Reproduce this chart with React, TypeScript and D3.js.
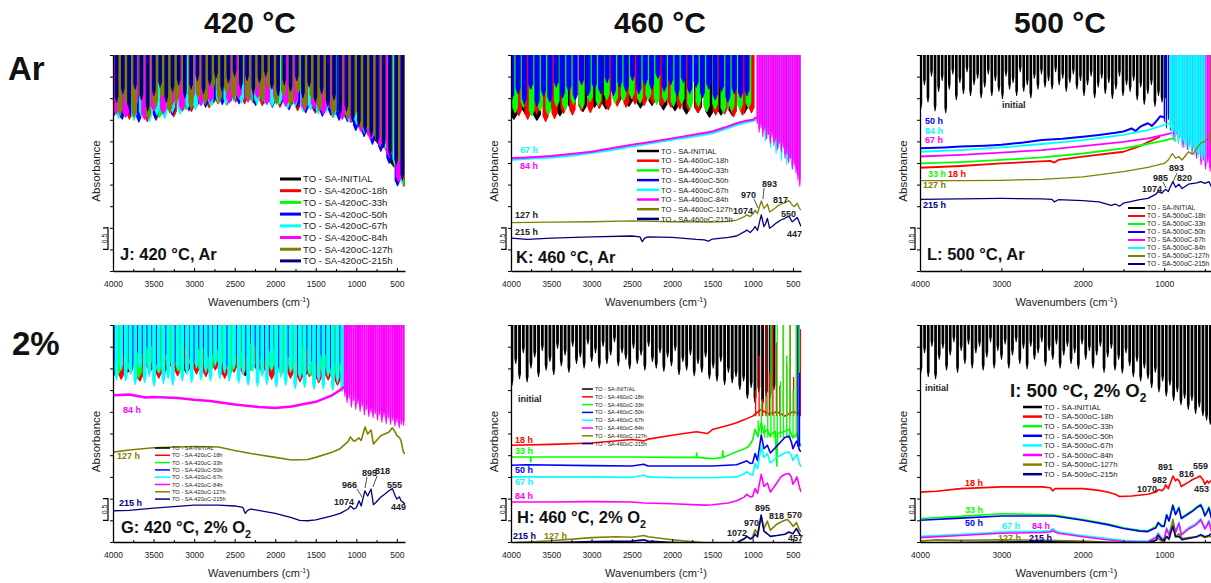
import React, { useEffect, useRef } from "react"
import * as d3 from "d3"

type Pt = [number, number]
type SpikeSet = { from: number; to: number; vals: number[]; mode?: "hang" | "rise"; base?: number; wf?: number }

// series names, colours and axis ticks
const hours = ["INITIAL", "18h", "33h", "50h", "67h", "84h", "127h", "215h"]
const seriesColors = ["#000000", "#ff0000", "#00ff00", "#0000ff", "#00ffff", "#ff00ff", "#808000", "#000080"]
const swappedColors = ["#000000", "#ff0000", "#00ff00", "#0000ff", "#ff00ff", "#00ffff", "#808000", "#000080"]
const ticks500 = [4000, 3500, 3000, 2500, 2000, 1500, 1000, 500]
const minor500 = [3750, 3250, 2750, 2250, 1750, 1250, 750]
const ticks1000 = [4000, 3000, 2000, 1000]
const minor1000 = [3500, 2500, 1500, 500]
const absTicks = [0, 0.5, 1, 1.5, 2, 2.5, 3, 3.5, 4, 4.5, 5]

// ---------- J: 420 °C, Ar  (saturated, spike minima) ----------
const jSp0 = [3.8, 3.7, 3.85, 3.75, 3.9, 4.0, 3.95, 4.05, 4.0, 3.98, 3.95, 3.9, 3.85, 3.8, 3.72, 3.62, 3.45, 3.2, 2.9, 2.4]
const jSp18 = [3.54, 3.5, 3.6, 3.45, 3.48, 3.62, 3.56, 3.7, 3.68, 3.84, 3.77, 3.86, 3.83, 3.9, 3.86, 3.88, 3.82, 3.86, 3.78, 3.8, 3.7, 3.74, 3.64, 3.66, 3.54, 3.55, 3.43, 3.3, 3.12, 2.97, 2.78, 2.5, 1.95]
const jSp33 = [3.7, 3.6, 3.75, 3.55, 3.8, 3.72, 3.9, 3.85, 3.95, 3.9, 3.92, 3.88, 3.85, 3.9, 3.78, 3.72, 3.65, 3.55, 3.4, 3.15, 2.85, 2.3]
const jSp50 = [3.58, 3.5, 3.6, 3.44, 3.55, 3.5, 3.64, 3.6, 3.74, 3.7, 3.82, 3.78, 3.9, 3.84, 3.92, 3.86, 3.94, 3.82, 3.88, 3.78, 3.84, 3.72, 3.78, 3.65, 3.7, 3.57, 3.6, 3.48, 3.45, 3.24, 3.1, 2.92, 2.76, 2.48, 1.96]
const jSp67 = [3.52, 3.62, 3.47, 3.56, 3.45, 3.6, 3.52, 3.66, 3.62, 3.76, 3.72, 3.85, 3.8, 3.9, 3.84, 3.92, 3.87, 3.95, 3.85, 3.9, 3.8, 3.86, 3.75, 3.8, 3.68, 3.72, 3.62, 3.66, 3.55, 3.56, 3.44, 3.38, 3.18, 3.08, 2.88, 2.74, 2.45, 1.98]
const jSp84 = [3.62, 3.55, 3.78, 3.5, 3.7, 3.62, 3.85, 3.7, 3.95, 3.82, 3.9, 4.05, 3.88, 3.98, 3.9, 4.0, 3.84, 3.92, 3.8, 3.86, 3.7, 3.75, 3.62, 3.66, 3.5, 3.44, 3.22, 3.04, 2.88, 2.62, 2.05]
const jSp127 = [3.6, 3.85, 3.55, 3.95, 3.5, 3.8, 4.0, 3.65, 3.9, 4.1, 3.75, 4.0, 3.85, 4.2, 3.9, 4.1, 3.95, 4.25, 3.95, 4.15, 3.9, 4.2, 3.85, 4.05, 3.8, 4.1, 3.75, 3.95, 3.7, 3.9, 3.6, 3.75, 3.5, 3.6, 3.3, 3.25, 3.05, 2.95, 2.72, 2.5, 1.98]
const jSp215 = [3.9, 4.1, 3.75, 4.2, 3.95, 3.7, 4.05, 4.25, 3.9, 4.15, 4.3, 4.0, 4.2, 4.4, 4.1, 4.3, 4.45, 4.15, 4.35, 4.5, 4.2, 4.4, 4.1, 4.35, 4.5, 4.2, 4.05, 4.3, 4.15, 4.4, 4.0, 4.25, 3.9, 4.1, 3.8, 3.95, 3.6, 3.7, 3.45, 3.35, 3.2, 3.1, 2.95, 2.85, 2.65, 2.45, 2.1]

// ---------- K: 460 °C, Ar ----------
const kSp0 = [3.5, 3.62, 3.48, 3.66, 3.58, 3.72, 3.68, 3.78, 3.74, 3.84, 3.8, 3.76, 3.82, 3.72, 3.7, 3.62, 3.66, 3.55, 3.6, 3.58, 3.64]
const kSp18 = [3.58, 3.5, 3.62, 3.45, 3.52, 3.64, 3.6, 3.7, 3.66, 3.75, 3.72, 3.8, 3.78, 3.85, 3.82, 3.86, 3.8, 3.78, 3.74, 3.7, 3.66, 3.68, 3.6, 3.62, 3.56, 3.6, 3.65]
const kSp33 = [3.65, 3.78, 3.58, 3.7, 3.6, 3.8, 3.72, 3.85, 3.75, 3.9, 3.82, 3.95, 3.88, 3.92, 3.98, 3.88, 3.95, 3.85, 3.9, 3.8, 3.86, 3.75, 3.8, 3.68, 3.74, 3.65, 3.7, 3.72, 3.76]
const kSp50 = [3.95, 4.1, 3.85, 4.2, 3.8, 4.05, 3.9, 4.25, 4.0, 4.15, 3.95, 4.3, 4.05, 4.2, 4.1, 4.35, 4.05, 4.25, 4.15, 4.4, 4.1, 4.3, 4.2, 4.45, 4.15, 4.3, 4.05, 4.35, 4.1, 4.25, 4.0, 4.2, 3.95, 4.15, 3.9, 4.1, 4.0, 4.05]
const kSp67 = [3.2, 3.0, 3.15, 2.85, 3.0, 2.7, 2.85, 2.55, 2.75, 2.45, 2.6, 2.35, 2.4, 2.25, 2.15]
const kSp84 = [3.4, 3.2, 3.3, 3.1, 3.25, 3.05, 3.15, 2.95, 3.1, 2.9, 3.0, 2.8, 2.95, 2.75, 2.85, 2.6, 2.7, 2.5, 2.6, 2.35, 2.45, 2.25, 2.1, 1.95]
const k67: Pt[] = [[4000, 2.57], [3800, 2.6], [3500, 2.63], [3200, 2.68], [3000, 2.73], [2750, 2.8], [2500, 2.88], [2250, 2.96], [2000, 3.04], [1750, 3.11], [1500, 3.19], [1350, 3.28], [1200, 3.38], [1100, 3.43], [1000, 3.47], [950, 3.5]]
const k84: Pt[] = [[4000, 2.61], [3800, 2.63], [3500, 2.66], [3200, 2.72], [3000, 2.76], [2750, 2.84], [2500, 2.92], [2250, 2.99], [2000, 3.07], [1750, 3.15], [1500, 3.23], [1350, 3.32], [1200, 3.42], [1100, 3.47], [1000, 3.5], [950, 3.56]]
const k127: Pt[] = [[4000, 1.12], [3500, 1.13], [3000, 1.14], [2500, 1.16], [2000, 1.14], [1500, 1.13], [1300, 1.15], [1200, 1.18], [1100, 1.26], [1074, 1.3], [1030, 1.26], [990, 1.33], [970, 1.41], [940, 1.33], [893, 1.62], [860, 1.45], [840, 1.49], [817, 1.55], [790, 1.37], [760, 1.4], [700, 1.49], [650, 1.55], [600, 1.58], [550, 1.63], [510, 1.53], [480, 1.49], [447, 1.57], [420, 1.45], [400, 1.41]]
const k215: Pt[] = [[4000, 0.76], [3800, 0.73], [3500, 0.76], [3000, 0.79], [2500, 0.81], [2400, 0.79], [2370, 0.68], [2340, 0.76], [2300, 0.79], [2000, 0.78], [1700, 0.73], [1600, 0.72], [1550, 0.69], [1500, 0.74], [1300, 0.78], [1200, 0.81], [1100, 0.91], [1074, 0.95], [1030, 0.89], [990, 0.97], [970, 1.03], [940, 0.94], [893, 1.3], [860, 1.03], [840, 1.09], [817, 1.22], [790, 0.99], [760, 1.03], [700, 1.12], [650, 1.18], [600, 1.22], [550, 1.27], [510, 1.14], [480, 1.18], [447, 1.24], [420, 1.12], [400, 1.03]]

// ---------- L: 500 °C, Ar ----------
const lSp0 = [3.75, 4.3, 3.9, 4.5, 3.7, 4.15, 4.4, 3.65, 4.2, 4.55, 3.95, 4.35, 4.1, 4.6, 4.05, 4.3, 4.45, 4.0, 4.25, 4.55, 4.05, 4.4, 4.15, 3.98, 4.5, 4.2, 4.35, 4.05, 4.6, 4.15, 4.3, 4.0, 4.45, 4.2, 4.55, 4.25, 4.4, 4.2, 4.6, 4.3, 4.45, 4.15, 4.35, 4.55, 4.2, 4.4, 4.05, 4.3, 4.5, 4.0, 4.25, 4.45, 4.1, 4.35, 3.98, 4.2, 4.5, 4.05, 4.3, 4.15, 4.4, 3.95, 4.25, 3.85, 4.1, 4.3, 3.8, 4.05, 3.9, 4.0]
const lSp50 = [3.45, 3.3, 3.5, 3.25, 3.4, 3.3]
const lSp67 = [3.05, 3.15, 2.95, 3.1, 2.85, 2.98, 2.8, 2.9, 2.7, 2.8, 2.6, 2.7, 2.45, 2.55, 2.35, 2.5, 2.3, 2.6]
const lSp84 = [3.3, 3.1, 3.22, 3.0, 3.15, 2.95, 3.08, 2.9, 3.0, 2.85, 2.95, 2.8, 2.9, 2.75, 2.82, 2.68, 2.76, 2.62, 2.7, 2.58, 2.64, 2.5]
const lSp127 = [2.9, 2.45, 2.35]
const l18: Pt[] = [[4000, 2.39], [3500, 2.43], [3000, 2.49], [2400, 2.55], [2350, 2.51], [2300, 2.57], [2000, 2.65], [1500, 2.76], [1300, 2.89], [1100, 3.07], [1050, 3.11]]
const l33: Pt[] = [[4000, 2.49], [3500, 2.52], [3000, 2.57], [2500, 2.63], [2000, 2.72], [1500, 2.84], [1200, 2.94], [1000, 3.02], [900, 3.07], [850, 3.0]]
const l50: Pt[] = [[4000, 2.84], [3700, 2.86], [3500, 2.88], [3200, 2.9], [3000, 2.92], [2750, 2.97], [2500, 3.03], [2250, 3.06], [2000, 3.11], [1800, 3.15], [1600, 3.2], [1500, 3.23], [1400, 3.3], [1350, 3.24], [1300, 3.33], [1250, 3.38], [1200, 3.42], [1150, 3.36], [1100, 3.46], [1050, 3.58], [1000, 3.56]]
const l67: Pt[] = [[4000, 2.65], [3500, 2.69], [3000, 2.74], [2500, 2.8], [2000, 2.89], [1500, 2.99], [1200, 3.07], [1000, 3.15], [900, 3.2]]
const l84: Pt[] = [[4000, 2.76], [3500, 2.8], [3000, 2.86], [2500, 2.94], [2000, 3.03], [1500, 3.15], [1200, 3.26], [1000, 3.38], [930, 3.42]]
const l127: Pt[] = [[4000, 2.09], [3500, 2.09], [3000, 2.1], [2500, 2.12], [2350, 2.14], [2000, 2.18], [1500, 2.3], [1200, 2.4], [1000, 2.49], [950, 2.57], [900, 2.72], [860, 2.61], [820, 2.65], [780, 2.57], [700, 2.76], [650, 2.7], [600, 2.84], [550, 2.96], [500, 3.0], [450, 3.11], [420, 3.19]]
const l215: Pt[] = [[4000, 1.66], [3500, 1.67], [3000, 1.68], [2500, 1.67], [2380, 1.66], [2350, 1.6], [2300, 1.65], [2000, 1.63], [1800, 1.6], [1650, 1.52], [1600, 1.55], [1550, 1.5], [1500, 1.57], [1300, 1.65], [1200, 1.68], [1100, 1.78], [1074, 1.84], [1030, 1.8], [985, 1.89], [950, 1.84], [893, 2.07], [860, 1.94], [820, 2.01], [780, 1.91], [700, 2.01], [600, 2.04], [550, 2.07], [500, 2.03], [450, 2.07], [420, 1.95], [400, 1.91]]

// ---------- G: 420 °C, 2% O2 ----------
const gSp0 = [3.8, 3.9, 3.72, 3.95, 3.85, 4.0, 3.88, 4.05, 3.92, 3.86, 4.0, 3.82, 3.95, 3.9, 4.02, 3.92, 3.78, 3.88, 3.8, 3.72]
const gSp18 = [3.74, 3.88, 3.7, 3.92, 3.76, 3.96, 3.82, 4.0, 3.86, 3.8, 3.95, 3.76, 3.9, 3.84, 3.98, 3.86, 3.74, 3.86, 3.76, 3.68, 3.8, 3.66, 3.72, 3.6, 3.64]
const gSp33 = [3.85, 3.98, 3.78, 4.02, 3.88, 4.08, 3.92, 4.1, 3.96, 3.9, 4.05, 3.86, 4.0, 3.94, 4.1, 3.96, 3.84, 3.95, 3.86, 3.8, 3.9, 3.76, 3.82]
const gSp50 = [4.1, 4.3, 4.0, 4.25, 4.4, 4.05, 4.3, 4.15, 4.45, 4.1, 4.35, 4.2, 4.4, 4.05, 4.3, 4.25, 4.45, 4.1, 4.35, 4.0, 4.25, 4.15, 4.4, 4.05, 4.2, 3.95, 4.1]
const gSp67 = [3.72, 3.95, 3.7, 3.85, 3.62, 4.0, 3.66, 3.8, 3.58, 3.9, 3.64, 3.75, 3.6, 3.95, 3.7, 3.85, 3.66, 4.0, 3.72, 3.9, 3.7, 4.05, 3.75, 3.88, 3.7, 3.98, 3.65, 3.85, 3.6, 3.92, 3.58, 3.8, 3.62, 3.95, 3.56, 3.78, 3.6, 3.9, 3.52, 3.75, 3.55, 3.85, 3.5, 3.7, 3.52, 3.8, 3.48, 3.66, 3.45, 3.6]
const gSp84 = [3.35, 3.2, 3.3, 3.1, 3.25, 3.05, 3.18, 3.0, 3.12, 2.92, 3.05, 2.88, 2.98, 2.85, 2.95, 2.8, 2.92, 2.75, 2.88, 2.72, 2.85, 2.7, 2.8, 2.66, 2.75, 2.62, 2.7, 2.68]
const g84: Pt[] = [[4000, 3.38], [3800, 3.4], [3600, 3.33], [3500, 3.34], [3200, 3.32], [3000, 3.28], [2800, 3.25], [2500, 3.17], [2200, 3.11], [2000, 3.09], [1800, 3.12], [1500, 3.23], [1300, 3.38], [1200, 3.5], [1150, 3.57]]
const g127: Pt[] = [[4000, 2.07], [3800, 2.12], [3500, 2.17], [3000, 2.2], [2700, 2.19], [2500, 2.11], [2300, 2.04], [2000, 1.95], [1800, 1.89], [1600, 1.9], [1500, 1.95], [1300, 2.07], [1200, 2.15], [1100, 2.32], [1074, 2.42], [1030, 2.32], [1000, 2.35], [970, 2.4], [940, 2.34], [893, 2.65], [860, 2.49], [818, 2.58], [790, 2.26], [760, 2.32], [700, 2.45], [650, 2.49], [600, 2.53], [555, 2.63], [520, 2.53], [500, 2.45], [470, 2.41], [450, 2.34], [420, 2.07], [400, 2.03]]
const g215: Pt[] = [[4000, 0.72], [3800, 0.73], [3500, 0.78], [3000, 0.85], [2700, 0.85], [2500, 0.83], [2400, 0.8], [2370, 0.66], [2340, 0.73], [2300, 0.76], [2000, 0.66], [1800, 0.56], [1700, 0.5], [1600, 0.49], [1500, 0.51], [1300, 0.6], [1200, 0.66], [1100, 0.76], [1074, 0.83], [1030, 0.76], [1000, 0.79], [966, 0.95], [940, 0.83], [895, 1.18], [860, 1.06], [818, 1.22], [790, 0.86], [760, 0.91], [700, 1.03], [650, 1.1], [600, 1.18], [555, 1.23], [520, 1.06], [500, 0.99], [470, 1.04], [449, 0.95], [420, 0.91], [400, 0.87]]

// ---------- H: 460 °C, 2% O2 ----------
const hSp0 = [3.6, 4.1, 3.75, 4.35, 3.68, 4.0, 4.25, 3.8, 4.4, 3.95, 4.15, 3.85, 4.45, 4.05, 4.3, 3.9, 4.5, 4.1, 4.25, 4.0, 4.55, 4.15, 4.35, 4.0, 4.5, 4.1, 4.3, 4.6, 4.05, 4.35, 4.2, 3.98, 4.45, 4.1, 4.3, 3.95, 4.5, 4.15, 4.0, 4.35, 3.92, 4.25, 4.05, 4.4, 3.85, 4.15, 3.95, 4.3, 3.82, 4.1, 3.9, 4.25, 3.75, 4.0, 3.7, 4.15, 3.62, 3.9, 3.66, 3.8, 3.5, 3.7, 3.3, 3.55, 3.2, 3.45, 3.15, 3.35, 3.3, 3.5]
const hSp18 = [3.5, 4.3, 3.3, 5.3, 3.9, 5.3, 4.6, 3.6, 5.3, 4.1, 5.3, 3.8, 5.3, 4.9]
const hSp33 = [2.8, 3.2, 2.7, 3.4, 5.3, 3.0, 5.3, 3.7, 5.3, 4.3, 5.3, 3.5, 5.3, 5.3]
const hSp50 = [5.3, 3.9]
const h18: Pt[] = [[4000, 2.23], [3500, 2.25], [3000, 2.28], [2500, 2.36], [2350, 2.33], [2300, 2.37], [2000, 2.46], [1700, 2.54], [1560, 2.5], [1500, 2.59], [1300, 2.69], [1200, 2.75], [1100, 2.82], [1000, 2.9], [900, 3.05], [800, 2.95], [700, 3.0], [600, 2.9], [500, 3.0], [400, 2.95]]
const h33: Pt[] = [[4000, 1.96], [3760, 1.96], [3755, 1.85], [3750, 1.96], [3000, 1.96], [2500, 1.96], [2000, 1.95], [1700, 1.95], [1695, 2.05], [1690, 1.95], [1500, 1.92], [1375, 1.95], [1370, 2.1], [1365, 1.95], [1200, 2.08], [1100, 2.15], [1050, 2.2], [1000, 2.35], [970, 2.6], [940, 2.45], [893, 2.75], [860, 2.5], [818, 2.6], [790, 2.45], [720, 2.55], [700, 1.75], [690, 2.5], [600, 2.55], [550, 2.6], [500, 2.4], [450, 2.5], [420, 2.3], [400, 2.2]]
const h50: Pt[] = [[4000, 1.77], [3800, 1.78], [3000, 1.76], [2500, 1.75], [2350, 1.79], [2300, 1.75], [2000, 1.75], [1500, 1.75], [1200, 1.78], [1100, 1.85], [1074, 1.87], [1030, 1.81], [1000, 1.82], [970, 2.04], [940, 1.88], [893, 2.46], [860, 2.15], [818, 2.23], [780, 2.05], [700, 2.21], [650, 2.31], [600, 2.41], [550, 2.44], [520, 2.31], [500, 2.15], [470, 2.27], [450, 2.33], [420, 2.12], [400, 2.08]]
const h67: Pt[] = [[4000, 1.5], [3000, 1.5], [2500, 1.49], [2350, 1.54], [2300, 1.5], [2000, 1.48], [1500, 1.48], [1200, 1.5], [1100, 1.58], [1074, 1.62], [1030, 1.56], [1000, 1.54], [970, 1.81], [940, 1.69], [893, 2.21], [860, 1.95], [818, 2.04], [780, 1.82], [700, 1.95], [650, 2.0], [600, 2.05], [550, 2.08], [520, 2.0], [500, 1.88], [470, 1.97], [450, 2.02], [420, 1.81], [400, 1.73]]
const h84: Pt[] = [[4000, 0.92], [3500, 0.92], [3000, 0.93], [2500, 0.92], [2350, 0.9], [2000, 0.88], [1600, 0.85], [1500, 0.86], [1300, 0.9], [1200, 0.95], [1100, 1.04], [1074, 1.1], [1030, 1.04], [1000, 1.05], [970, 1.23], [940, 1.12], [893, 1.56], [860, 1.28], [818, 1.36], [780, 1.15], [700, 1.36], [650, 1.5], [600, 1.56], [550, 1.58], [520, 1.5], [500, 1.33], [470, 1.42], [450, 1.5], [420, 1.27], [400, 1.15]]
const h127: Pt[] = [[4000, -0.02], [3500, 0.03], [3000, 0.1], [2700, 0.12], [2500, 0.11], [2350, 0.15], [2300, 0.12], [2000, 0.05], [1700, 0.0], [1500, -0.04], [1200, -0.02], [1100, 0.08], [1074, 0.13], [1030, 0.08], [1000, 0.12], [970, 0.28], [940, 0.19], [893, 0.59], [860, 0.31], [818, 0.48], [780, 0.27], [700, 0.41], [650, 0.46], [600, 0.5], [570, 0.52], [520, 0.42], [500, 0.36], [470, 0.41], [457, 0.45], [420, 0.28], [400, 0.23]]
const h215: Pt[] = [[4000, -0.05], [3000, 0.01], [2500, 0.02], [2350, 0.05], [2300, 0.02], [2000, -0.01], [1500, -0.05], [1200, -0.02], [1100, 0.08], [1074, 0.13], [1030, 0.07], [1000, 0.09], [970, 0.18], [940, 0.12], [895, 0.62], [860, 0.25], [818, 0.19], [780, 0.13], [700, 0.15], [600, 0.18], [550, 0.23], [500, 0.19], [457, 0.31], [420, 0.19], [400, 0.13]]

// ---------- I: 500 °C, 2% O2 ----------
const iSp0 = [3.9, 4.35, 3.8, 4.5, 3.75, 4.2, 4.45, 3.95, 4.3, 4.6, 3.9, 4.4, 4.1, 4.55, 4.0, 4.35, 4.5, 3.95, 4.25, 4.6, 4.0, 4.4, 4.2, 4.55, 4.0, 4.3, 4.6, 4.1, 4.45, 3.98, 4.5, 4.2, 4.35, 4.6, 4.05, 4.4, 4.2, 4.55, 4.0, 4.3, 4.5, 4.1, 4.35, 3.98, 4.55, 4.2, 4.4, 4.0, 4.3, 4.5, 3.9, 4.25, 4.45, 3.95, 4.2, 3.88, 4.35, 4.05, 3.8, 4.15, 3.7, 4.0, 3.75, 3.55, 3.9, 3.45, 3.7, 3.35, 3.6, 3.25, 3.45, 3.15, 3.3, 3.05, 3.25, 2.95, 3.1, 2.9, 2.8, 2.7]
const i18: Pt[] = [[4000, 1.15], [3800, 1.17], [3500, 1.23], [3000, 1.27], [2500, 1.27], [2400, 1.25], [2370, 1.18], [2340, 1.23], [2000, 1.23], [1800, 1.19], [1700, 1.15], [1600, 1.1], [1550, 1.05], [1400, 1.06], [1200, 1.1], [1100, 1.15], [1070, 1.21], [1030, 1.18], [1000, 1.23], [982, 1.32], [950, 1.23], [891, 1.52], [860, 1.41], [840, 1.45], [816, 1.41], [790, 1.28], [700, 1.38], [650, 1.44], [600, 1.48], [559, 1.52], [520, 1.43], [500, 1.33], [470, 1.41], [453, 1.36], [420, 1.42], [400, 1.31]]
const i33: Pt[] = [[4000, 0.54], [3500, 0.59], [3000, 0.65], [2500, 0.63], [2350, 0.62], [2000, 0.52], [1700, 0.42], [1500, 0.33], [1300, 0.27], [1200, 0.26], [1100, 0.36], [1074, 0.46], [1030, 0.38], [1000, 0.38], [970, 0.64], [940, 0.5], [893, 0.86], [860, 0.65], [818, 0.81], [790, 0.56], [700, 0.67], [650, 0.73], [600, 0.81], [550, 0.87], [520, 0.75], [500, 0.62], [470, 0.73], [450, 0.81], [420, 0.58], [400, 0.54]]
const i50: Pt[] = [[4000, 0.5], [3500, 0.55], [3000, 0.6], [2500, 0.6], [2350, 0.6], [2000, 0.5], [1700, 0.4], [1500, 0.31], [1300, 0.25], [1200, 0.24], [1100, 0.33], [1074, 0.44], [1030, 0.36], [1000, 0.36], [970, 0.62], [940, 0.48], [893, 0.84], [860, 0.63], [818, 0.78], [790, 0.54], [700, 0.65], [650, 0.71], [600, 0.79], [550, 0.85], [520, 0.72], [500, 0.6], [470, 0.7], [450, 0.78], [420, 0.55], [400, 0.52]]
const i67: Pt[] = [[4000, 0.13], [3500, 0.18], [3000, 0.23], [2500, 0.25], [2400, 0.26], [2370, 0.31], [2340, 0.26], [2300, 0.23], [2000, 0.15], [1700, 0.08], [1500, 0.04], [1300, 0.02], [1200, 0.02], [1100, 0.12], [1074, 0.21], [1030, 0.1], [1000, 0.08], [970, 0.33], [940, 0.19], [893, 0.5], [860, 0.25], [818, 0.46], [790, 0.19], [700, 0.33], [650, 0.38], [600, 0.44], [550, 0.54], [520, 0.42], [500, 0.33], [470, 0.42], [450, 0.5], [420, 0.28], [400, 0.25]]
const i84: Pt[] = [[4000, 0.1], [3500, 0.15], [3000, 0.2], [2500, 0.22], [2400, 0.23], [2370, 0.27], [2340, 0.23], [2300, 0.2], [2000, 0.12], [1700, 0.05], [1500, 0.01], [1300, 0.0], [1200, 0.0], [1100, 0.1], [1074, 0.18], [1030, 0.07], [1000, 0.06], [970, 0.3], [940, 0.16], [893, 0.47], [860, 0.22], [818, 0.43], [790, 0.16], [700, 0.3], [650, 0.35], [600, 0.41], [550, 0.51], [520, 0.39], [500, 0.3], [470, 0.39], [450, 0.47], [420, 0.25], [400, 0.22]]
const i127: Pt[] = [[4000, 0.02], [3800, 0.05], [3500, 0.04], [3000, 0.05], [2500, 0.04], [2000, 0.02], [1500, -0.02], [1200, -0.02], [1100, 0.04], [1074, 0.08], [1030, 0.02], [1000, 0.02], [970, 0.12], [940, 0.05], [893, 0.52], [860, 0.13], [818, 0.19], [780, 0.08], [700, 0.1], [600, 0.12], [550, 0.15], [500, 0.1], [450, 0.13], [420, 0.12], [400, 0.1]]
const i215: Pt[] = [[4000, -0.02], [3000, 0.0], [2500, 0.01], [2000, -0.01], [1500, -0.02], [1200, -0.02], [1100, 0.04], [1074, 0.15], [1030, 0.05], [1000, 0.04], [970, 0.13], [940, 0.08], [893, 0.36], [860, 0.12], [818, 0.13], [780, 0.05], [700, 0.08], [600, 0.12], [550, 0.17], [500, 0.12], [450, 0.15], [420, 0.19], [400, 0.15]]

const FONT = "'Liberation Sans', Arial, Helvetica, sans-serif"
const HIGH = 5.3 // off-scale level the saturated spikes hang from

const panels = [
	{
		id: "J", temp: "420", left: 113, top: 55, width: 292, height: 216, major: ticks500, minor: minor500, colors: seriesColors,
		title: ["J: 420 °C, Ar", ""], titleAt: [7, 205], titleSize: 16.5,
		legend: { x: 167, y: 124, row: 11.7, size: 9.5, len: 21, lw: 3 },
		series: [
			{ spikes: [{ from: 4000, to: 400, vals: jSp0 }] },
			{ spikes: [{ from: 4000, to: 400, vals: jSp18 }] },
			{ spikes: [{ from: 4000, to: 400, vals: jSp33 }] },
			{ spikes: [{ from: 4000, to: 400, vals: jSp50 }] },
			{ spikes: [{ from: 4000, to: 400, vals: jSp67 }] },
			{ spikes: [{ from: 4000, to: 400, vals: jSp84 }] },
			{ spikes: [{ from: 4000, to: 400, vals: jSp127, wf: 0.75 }] },
			{ spikes: [{ from: 4000, to: 400, vals: jSp215, wf: 0.6 }] },
		],
		labels: [] as any[], leaders: [] as number[][],
	},
	{
		id: "K", temp: "460", left: 511, top: 55, width: 290, height: 216, major: ticks500, minor: minor500, colors: seriesColors,
		title: ["K: 460 °C, Ar", ""], titleAt: [5, 208], titleSize: 16.5,
		legend: { x: 126, y: 96, row: 9.7, size: 7.6, len: 22, lw: 2.5 },
		series: [
			{ spikes: [{ from: 4000, to: 1000, vals: kSp0 }] },
			{ spikes: [{ from: 4000, to: 1000, vals: kSp18 }] },
			{ spikes: [{ from: 4000, to: 1000, vals: kSp33 }] },
			{ spikes: [{ from: 4000, to: 1000, vals: kSp50, wf: 0.8 }] },
			{ pts: k67, lw: 2, spikes: [{ from: 900, to: 400, vals: kSp67 }] },
			{ pts: k84, lw: 2, spikes: [{ from: 950, to: 400, vals: kSp84, wf: 1.0 }] },
			{ pts: k127 },
			{ pts: k215 },
		],
		labels: [
			["67 h", "#00ffff", 9, 98], ["84 h", "#ff00ff", 9, 114], ["127 h", "#222", 4, 163], ["215 h", "#222", 4, 180],
			["893", "#222", 251, 132], ["970", "#222", 230, 143], ["817", "#222", 262, 148], ["1074", "#222", 222, 159],
			["550", "#222", 270, 162], ["447", "#222", 276, 182],
		],
		leaders: [[243, 144, 247, 153], [253, 133, 252, 144]],
	},
	{
		id: "L", temp: "500", left: 920, top: 55, width: 293, height: 216, major: ticks1000, minor: minor1000, colors: swappedColors,
		title: ["L: 500 °C, Ar", ""], titleAt: [7, 205], titleSize: 16.5,
		legend: { x: 208, y: 153, row: 8, size: 6.6, len: 17, lw: 2 },
		series: [
			{ spikes: [{ from: 4000, to: 950, vals: lSp0, wf: 0.75 }] },
			{ pts: l18, lw: 1.8 },
			{ pts: l33, lw: 1.8 },
			{ pts: l50, lw: 2, spikes: [{ from: 1000, to: 850, vals: lSp50 }] },
			{ pts: l67, lw: 1.8, spikes: [{ from: 900, to: 400, vals: lSp67, wf: 0.9 }] },
			{ pts: l84, lw: 1.8, spikes: [{ from: 930, to: 490, vals: lSp84, wf: 1.0 }] },
			{ pts: l127, spikes: [{ from: 440, to: 400, vals: lSp127, wf: 0.8 }] },
			{ pts: l215 },
		],
		labels: [
			["initial", "#222", 82, 53], ["50 h", "#0000ff", 5, 69], ["84 h", "#00ffff", 5, 79], ["67 h", "#ff00ff", 5, 88],
			["33 h", "#00ff00", 8, 122], ["18 h", "#ff0000", 28, 122], ["127 h", "#808000", 3, 133], ["215 h", "#000080", 3, 153],
			["893", "#222", 249, 116], ["985", "#222", 233, 126], ["820", "#222", 257, 126], ["1074", "#222", 222, 137],
		],
		leaders: [[257, 118, 253, 127], [243, 127, 246, 133]],
	},
	{
		id: "G", temp: "420", left: 113, top: 325, width: 292, height: 217, major: ticks500, minor: minor500, colors: seriesColors,
		title: ["G: 420 °C, 2% O", "2"], titleAt: [8, 208], titleSize: 16.5,
		legend: { x: 42, y: 123, row: 7.3, size: 5.7, len: 15, lw: 1.5 },
		series: [
			{ spikes: [{ from: 4000, to: 1100, vals: gSp0 }] },
			{ spikes: [{ from: 4000, to: 1100, vals: gSp18 }] },
			{ spikes: [{ from: 4000, to: 1100, vals: gSp33 }] },
			{ spikes: [{ from: 4000, to: 1100, vals: gSp50 }] },
			{ spikes: [{ from: 4000, to: 1100, vals: gSp67, wf: 0.8 }] },
			{ pts: g84, lw: 2.5, spikes: [{ from: 1150, to: 400, vals: gSp84, wf: 1.0 }] },
			{ pts: g127, lw: 1.6 },
			{ pts: g215 },
		],
		labels: [
			["84 h", "#ff00ff", 10, 88], ["127 h", "#808000", 4, 134], ["215 h", "#000080", 6, 181],
			["895", "#222", 249, 151], ["818", "#222", 262, 149], ["966", "#222", 229, 163], ["555", "#222", 274, 163],
			["1074", "#222", 221, 180], ["449", "#222", 278, 185],
		],
		leaders: [[244, 164, 249, 172], [254, 152, 252, 163], [264, 151, 260, 162]],
	},
	{
		id: "H", temp: "460", left: 511, top: 325, width: 290, height: 217, major: ticks500, minor: minor500, colors: seriesColors,
		title: ["H: 460 °C, 2% O", "2"], titleAt: [6, 198], titleSize: 16.5,
		legend: { x: 71, y: 64, row: 7.8, size: 5.5, len: 11, lw: 1.5 },
		series: [
			{ spikes: [{ from: 4000, to: 700, vals: hSp0, wf: 0.75 }] },
			{ pts: h18, lw: 1.6, spikes: [{ from: 1000, to: 400, vals: hSp18, mode: "rise", base: 2.9 }] },
			{ pts: h33, lw: 1.6, spikes: [{ from: 950, to: 400, vals: hSp33, mode: "rise", base: 2.4 }] },
			{ pts: h50, lw: 1.6, spikes: [{ from: 440, to: 400, vals: hSp50, mode: "rise", base: 2.2 }] },
			{ pts: h67, lw: 1.6 },
			{ pts: h84, lw: 1.6 },
			{ pts: h127, lw: 1.6 },
			{ pts: h215, lw: 1.6 },
		],
		labels: [
			["initial", "#222", 7, 77], ["18 h", "#ff0000", 4, 118], ["33 h", "#00ff00", 4, 129], ["50 h", "#0000ff", 4, 148],
			["67 h", "#00ffff", 4, 160], ["84 h", "#ff00ff", 4, 174], ["215 h", "#000080", 2, 214], ["127 h", "#808000", 33, 214],
			["895", "#222", 244, 186], ["818", "#222", 258, 194], ["570", "#222", 276, 193], ["970", "#222", 233, 201],
			["1072", "#222", 216, 211], ["457", "#222", 277, 216],
		],
		leaders: [] as number[][],
	},
	{
		id: "I", temp: "500", left: 920, top: 325, width: 293, height: 217, major: ticks1000, minor: minor1000, colors: seriesColors,
		title: ["I: 500 °C, 2% O", "2"], titleAt: [90, 72], titleSize: 18.5,
		legend: { x: 103, y: 82, row: 9.6, size: 7.8, len: 19, lw: 2.5 },
		series: [
			{ spikes: [{ from: 4000, to: 400, vals: iSp0, wf: 0.75 }] },
			{ pts: i18, lw: 1.6 },
			{ pts: i33, lw: 1.6 },
			{ pts: i50, lw: 1.6 },
			{ pts: i67, lw: 1.6 },
			{ pts: i84, lw: 1.6 },
			{ pts: i127, lw: 1.6 },
			{ pts: i215, lw: 1.6 },
		],
		labels: [
			["initial", "#222", 5, 66], ["18 h", "#ff0000", 45, 161], ["33 h", "#00ff00", 45, 188], ["50 h", "#0000ff", 45, 201],
			["67 h", "#00ffff", 82, 204], ["84 h", "#ff00ff", 112, 204], ["127 h", "#808000", 78, 216], ["215 h", "#000080", 109, 216],
			["891", "#222", 238, 145], ["816", "#222", 259, 152], ["559", "#222", 273, 144], ["982", "#222", 232, 158],
			["1070", "#222", 217, 167], ["453", "#222", 274, 167],
		],
		leaders: [] as number[][],
	},
]

const drawPanel = (svg: any, p: any) => {
	const x = d3.scaleLinear().domain([4000, 400]).range([p.left, p.left + p.width])
	const y = d3.scaleLinear().domain([0, 5]).range([p.top + p.height, p.top])
	const bottom = p.top + p.height

	svg
		.append("clipPath")
		.attr("id", "clip" + p.id)
		.append("rect")
		.attr("x", p.left)
		.attr("y", p.top)
		.attr("width", p.width)
		.attr("height", p.height)

	const plot = svg.append("g").attr("clip-path", `url(#clip${p.id})`)
	const line = d3
		.line<Pt>()
		.x(d => x(d[0]))
		.y(d => y(d[1]))

	p.series.forEach((s: any, k: number) => {
		const color = p.colors[k]
		;(s.spikes || []).forEach((sp: SpikeSet) => {
			const n = sp.vals.length
			const stepWn = (sp.to - sp.from) / n
			const phase = (k * 0.618 + 0.25) % 1
			const pos = sp.vals.map((_, i) => x(sp.from + stepWn * (i + phase)))
			const bw = Math.max(1, Math.abs(x(sp.from + stepWn) - x(sp.from)) * (sp.wf ?? 0.7))
			if (sp.mode === "rise") {
				plot
					.append("g")
					.selectAll("line")
					.data(sp.vals)
					.join("line")
					.attr("x1", (_: number, i: number) => pos[i])
					.attr("x2", (_: number, i: number) => pos[i])
					.attr("y1", y(sp.base ?? 0))
					.attr("y2", (d: number) => y(d))
					.attr("stroke", color)
					.attr("stroke-width", 1.3)
			} else {
				// saturated noise: bars hanging from above the frame, ending in a short point at each minimum
				plot
					.append("g")
					.selectAll("path")
					.data(sp.vals)
					.join("path")
					.attr("d", (d: number, i: number) => {
						const x0 = pos[i] - bw / 2
						const x1 = pos[i] + bw / 2
						const yH = y(HIGH)
						const yT = y(d)
						const tip = Math.min(6, (yT - yH) / 3)
						return `M${x0},${yH}H${x1}V${yT - tip}L${pos[i] + 0.4},${yT}H${pos[i] - 0.4}L${x0},${yT - tip}Z`
					})
					.attr("fill", color)
			}
		})
		if (s.pts) {
			plot
				.append("path")
				.datum(s.pts)
				.attr("fill", "none")
				.attr("stroke", color)
				.attr("stroke-width", s.lw ?? 1.3)
				.attr("stroke-linejoin", "round")
				.attr("d", line)
		}
	})

	// axes
	const xAxis = svg
		.append("g")
		.attr("transform", `translate(0,${bottom})`)
		.call(d3.axisBottom(x).tickValues(p.major).tickSize(-3).tickSizeOuter(0).tickPadding(10).tickFormat(d3.format("d")))
	xAxis.select(".domain").attr("stroke-width", 1.3)
	xAxis.selectAll("text").attr("font-size", 8.5).attr("font-family", FONT).attr("fill", "#222")

	svg
		.append("g")
		.attr("transform", `translate(0,${bottom})`)
		.call(d3.axisBottom(x).tickValues(p.minor).tickSize(-2).tickFormat(() => ""))
		.call((g: any) => g.select(".domain").remove())

	const yAxis = svg
		.append("g")
		.attr("transform", `translate(${p.left},0)`)
		.call(d3.axisLeft(y).tickValues(absTicks).tickSize(3).tickSizeOuter(0).tickFormat(() => ""))
	yAxis.select(".domain").attr("stroke-width", 1.3)

	// axis titles
	const xt = svg
		.append("text")
		.attr("x", p.left + p.width / 2)
		.attr("y", bottom + 35)
		.attr("text-anchor", "middle")
		.attr("font-size", 11)
		.attr("fill", "#222")
		.text("Wavenumbers (cm")
	xt.append("tspan").attr("font-size", 7).attr("dy", -4).text("-1")
	xt.append("tspan").attr("font-size", 11).attr("dy", 4).text(")")

	svg
		.append("text")
		.attr("transform", `translate(${p.left - 13},${p.top + p.height / 2 + 8}) rotate(-90)`)
		.attr("text-anchor", "middle")
		.attr("font-size", 11.5)
		.attr("fill", "#222")
		.text("Absorbance")

	// 0.5 scale bar
	svg
		.append("path")
		.attr("d", `M${p.left - 10},${y(1)}H${p.left - 5}V${y(0.5)}H${p.left - 10}`)
		.attr("fill", "none")
		.attr("stroke", "#000")
		.attr("stroke-width", 1.2)
	svg
		.append("text")
		.attr("transform", `translate(${p.left - 6},${y(0.75)}) rotate(-90)`)
		.attr("text-anchor", "middle")
		.attr("font-size", 7)
		.attr("fill", "#222")
		.text("0.5")

	// legend
	const lg = p.legend
	hours.forEach((h, i) => {
		const cy = p.top + lg.y + i * lg.row
		svg
			.append("line")
			.attr("x1", p.left + lg.x)
			.attr("x2", p.left + lg.x + lg.len)
			.attr("y1", cy)
			.attr("y2", cy)
			.attr("stroke", p.colors[i])
			.attr("stroke-width", lg.lw)
		svg
			.append("text")
			.attr("x", p.left + lg.x + lg.len + 2)
			.attr("y", cy + lg.size * 0.36)
			.attr("font-size", lg.size)
			.attr("fill", "#222")
			.text(i === 0 ? "TO - SA-INITIAL" : `TO - SA-${p.temp}oC-${h}`)
	})

	// curve labels and peak positions
	p.labels.forEach((l: any[]) => {
		svg
			.append("text")
			.attr("x", p.left + l[2])
			.attr("y", p.top + l[3])
			.attr("font-size", 9)
			.attr("font-weight", "bold")
			.attr("fill", l[1])
			.text(l[0])
	})
	p.leaders.forEach((l: number[]) => {
		svg
			.append("line")
			.attr("x1", p.left + l[0])
			.attr("y1", p.top + l[1])
			.attr("x2", p.left + l[2])
			.attr("y2", p.top + l[3])
			.attr("stroke", "#222")
			.attr("stroke-width", 0.8)
	})

	// panel title
	const t = svg
		.append("text")
		.attr("x", p.left + p.titleAt[0])
		.attr("y", p.top + p.titleAt[1])
		.attr("font-size", p.titleSize)
		.attr("font-weight", "bold")
		.attr("fill", "#111")
		.text(p.title[0])
	if (p.title[1]) {
		t.append("tspan").attr("font-size", p.titleSize * 0.65).attr("dy", 5).text(p.title[1])
	}
}

const App = () => {
	const ref = useRef<SVGSVGElement>(null)

	useEffect(() => {
		const svg = d3.select(ref.current)
		svg.selectAll("*").remove()
		svg.append("rect").attr("width", 1211).attr("height", 583).attr("fill", "#fff")

		panels.forEach(p => drawPanel(svg, p))

		// column and row headings
		const heads: [string, number][] = [["420 °C", 250], ["460 °C", 660], ["500 °C", 1060]]
		heads.forEach(([txt, cx]) => {
			svg
				.append("text")
				.attr("x", cx)
				.attr("y", 33)
				.attr("text-anchor", "middle")
				.attr("font-size", 30)
				.attr("font-weight", "bold")
				.attr("fill", "#111")
				.text(txt)
		})
		svg.append("text").attr("x", 8).attr("y", 80).attr("font-size", 33).attr("font-weight", "bold").attr("fill", "#111").text("Ar")
		svg.append("text").attr("x", 12).attr("y", 355).attr("font-size", 33).attr("font-weight", "bold").attr("fill", "#111").text("2%")
	}, [])

	return (
		<svg
			ref={ref}
			width={1211}
			height={583}
			style={{ position: "absolute", left: 0, top: 0, fontFamily: FONT }}
		/>
	)
}

export default App
